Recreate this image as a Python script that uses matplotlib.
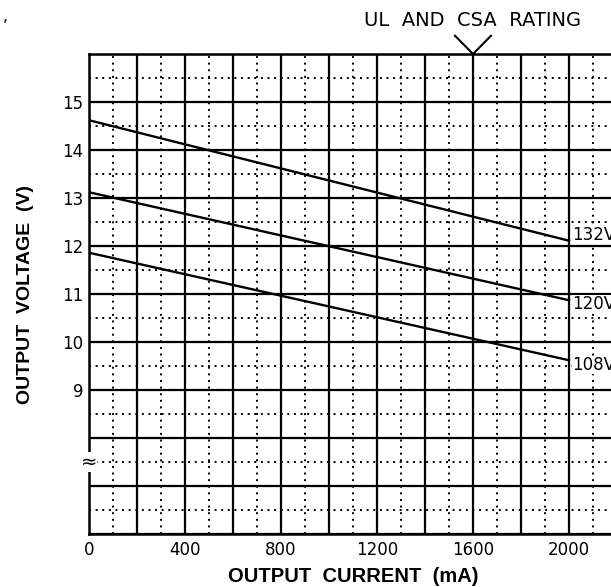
import matplotlib.pyplot as plt
import numpy as np

# Output voltage vs output current
current = [0, 2000]
v_132 = [14.62, 12.11]
v_120 = [13.12, 10.87]
v_108 = [11.86, 9.62]
series_labels = ['132V', '120V', '108V']
label_offsets = [0.12, -0.08, -0.1]

x_ticks = list(range(0, 2201, 200))
x_labels = ['0', '', '400', '', '800', '', '1200', '', '1600', '', '2000', '']
y_ticks = list(range(6, 17))
y_labels = ['', '', '', '9', '10', '11', '12', '13', '14', '15', '']
rating_current = 1600

plt.rcParams['font.family'] = ['DejaVu Sans']

fig = plt.figure(figsize=(6.11, 5.87), dpi=100)
# axes runs past the right edge of the picture like the original scan
ax = fig.add_axes([89 / 611, 53 / 587, 528 / 611, 480 / 587])

ax.set_xlim(0, 2200)
ax.set_ylim(6, 16)
ax.set_xticks(x_ticks)
ax.set_xticklabels(x_labels, fontsize=12)
ax.set_xticks(np.arange(100, 2200, 200), minor=True)
ax.set_yticks(y_ticks)
ax.set_yticklabels(y_labels, fontsize=12)
ax.set_yticks(np.arange(6.5, 16, 1), minor=True)
ax.tick_params(which='both', length=0)
ax.tick_params(axis='x', pad=5)
ax.tick_params(axis='y', pad=4)

ax.grid(which='major', color='black', linewidth=1.6)
ax.grid(which='minor', color='black', linewidth=1.4, linestyle=(0, (1, 2.4)))
ax.set_axisbelow(True)
for sp in ax.spines.values():
    sp.set_linewidth(1.8)

for vals, lab, off in zip([v_132, v_120, v_108], series_labels, label_offsets):
    ax.plot(current, vals, color='black', linewidth=1.7)
    ax.text(current[-1] + 15, vals[-1] + off, lab, fontsize=12, ha='left', va='center',
            clip_on=False, bbox=dict(facecolor='white', edgecolor='none', pad=0.3))

# axis break symbol on the left spine
ax.text(0, 7.5, '\u2248', fontsize=14, ha='center', va='center',
        bbox=dict(facecolor='white', edgecolor='none', pad=0.2), clip_on=False)

# UL and CSA rating marker
ax.plot([rating_current - 75, rating_current, rating_current + 75], [16.38, 16, 16.38],
        color='black', linewidth=1.5, clip_on=False)
ax.text(rating_current, 16.7, 'UL  AND  CSA  RATING', fontsize=14, ha='center',
        va='center', clip_on=False)

ax.set_xlabel('OUTPUT  CURRENT  (mA)', fontsize=14.5, fontweight='bold', labelpad=6,
              family='Liberation Sans')
ax.set_ylabel('OUTPUT  VOLTAGE  (V)', fontsize=14, fontweight='bold', labelpad=20,
              family='Liberation Sans')

fig.text(0.004, 0.985, ',', fontsize=11, ha='left', va='top')

fig.savefig('out.png', dpi=100)
